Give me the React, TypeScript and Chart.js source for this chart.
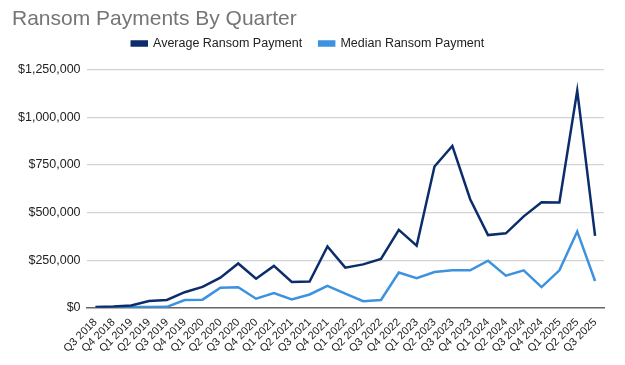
import React, { useEffect, useRef } from "react";
import { Chart, registerables } from "chart.js";

Chart.register(...registerables);

const quarters = [
  "Q3 2018", "Q4 2018", "Q1 2019", "Q2 2019", "Q3 2019", "Q4 2019",
  "Q1 2020", "Q2 2020", "Q3 2020", "Q4 2020", "Q1 2021", "Q2 2021",
  "Q3 2021", "Q4 2021", "Q1 2022", "Q2 2022", "Q3 2022", "Q4 2022",
  "Q1 2023", "Q2 2023", "Q3 2023", "Q4 2023", "Q1 2024", "Q2 2024",
  "Q3 2024", "Q4 2024", "Q1 2025", "Q2 2025", "Q3 2025",
];

const averagePayment = [
  4000, 6500, 12000, 36000, 41000, 82000,
  110000, 158000, 233000, 153000, 220000, 136000,
  138000, 322000, 211000, 228000, 257000, 409000,
  326000, 742000, 850000, 570000, 382000, 391000,
  480000, 554000, 553000, 1140000, 378000,
];

const medianPayment = [
  2000, 3000, 4000, 4000, 5000, 41000,
  43000, 106000, 108000, 48000, 78000, 44000,
  70000, 115000, 74000, 35000, 41000, 185000,
  156000, 188000, 197000, 197000, 247000, 169000,
  197000, 109000, 197000, 401000, 141000,
];

const yTicks = [0, 250000, 500000, 750000, 1000000, 1250000];

const legendSpacer = {
  id: "legendSpacer",
  beforeLayout(chart: any) {
    const lg = chart.legend;
    if (lg && !lg.__patched) {
      const orig = lg.fit;
      lg.fit = function () {
        orig.call(this);
        this.height += 10;
      };
      lg.__patched = true;
    }
  },
};

export default function App() {
  const ref = useRef<HTMLCanvasElement | null>(null);

  useEffect(() => {
    document.body.style.margin = "0";
    if (!ref.current) return;
    const chart = new Chart(ref.current, {
      type: "line",
      data: {
        labels: quarters,
        datasets: [
          {
            label: "Average Ransom Payment",
            data: averagePayment,
            borderColor: "#0c2d6b",
            backgroundColor: "#0c2d6b",
            borderWidth: 2.5,
            pointRadius: 0,
            tension: 0,
          },
          {
            label: "Median Ransom Payment",
            data: medianPayment,
            borderColor: "#3d92df",
            backgroundColor: "#3d92df",
            borderWidth: 2.5,
            pointRadius: 0,
            tension: 0,
          },
        ],
      },
      plugins: [legendSpacer],
      options: {
        animation: false,
        responsive: false,
        maintainAspectRatio: false,
        layout: { padding: { left: 12, right: 21, top: 7, bottom: 10 } },
        plugins: {
          title: {
            display: true,
            text: "Ransom Payments By Quarter",
            align: "start",
            color: "#757575",
            font: { family: "Liberation Sans, Arial", size: 21, weight: "normal" },
            padding: { top: 0, bottom: -12 },
          },
          legend: {
            display: true,
            position: "top",
            labels: {
              color: "#222",
              font: { family: "Liberation Sans, Arial", size: 12.5 },
              boxWidth: 15,
              boxHeight: 4,
              padding: 17,
            },
          },
          tooltip: { enabled: false },
        },
        scales: {
          x: {
            offset: true,
            grid: { display: false },
            border: { display: true, color: "#666", width: 1.5 },
            ticks: {
              color: "#222",
              font: { family: "Liberation Sans, Arial", size: 11 },
              minRotation: 45,
              maxRotation: 45,
              autoSkip: false,
              padding: 0,
            },
          },
          y: {
            min: 0,
            max: 1250000,
            afterBuildTicks: (axis: any) => {
              axis.ticks = yTicks.map((v) => ({ value: v }));
            },
            grid: {
              color: (ctx: any) => (ctx.tick && ctx.tick.value === 0 ? "rgba(0,0,0,0)" : "#d3d3d3"),
              lineWidth: 1.2,
              drawTicks: false,
            },
            border: { display: false },
            ticks: {
              color: "#222",
              font: { family: "Liberation Sans, Arial", size: 12.5 },
              padding: 6,
              callback: (v: any) => "$" + Number(v).toLocaleString("en-US"),
            },
          },
        },
      },
    });
    return () => chart.destroy();
  }, []);

  return (
    <div style={{ position: "absolute", left: 0, top: 0, width: 625, height: 365 }}>
      <canvas ref={ref} width={625} height={365} style={{ width: 625, height: 365 }} />
    </div>
  );
}
